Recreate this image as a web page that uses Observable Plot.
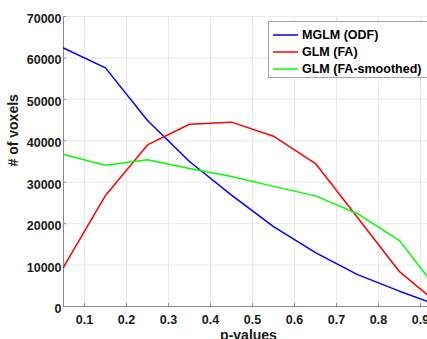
<!DOCTYPE html>
<html><head><meta charset="utf-8">
<script src="https://cdn.jsdelivr.net/npm/d3@7"></script>
<script src="https://cdn.jsdelivr.net/npm/@observablehq/plot@0.6"></script>
<style>
html,body{margin:0;padding:0;background:#fff;overflow:hidden;width:427px;height:339px;}
#wrap{position:relative;width:470px;height:350px;}
#legend{position:absolute;left:268px;top:21px;width:163px;height:57px;border:1px solid #a6a6a6;background:#fff;box-sizing:border-box;font:bold 12.5px "Liberation Sans",Arial,sans-serif;color:#000;}
.row{position:absolute;left:4px;height:17px;display:flex;align-items:center;white-space:nowrap;}
.row svg{margin-right:4px;}
</style></head><body>
<div id="wrap"><div id="chart"></div><div id="legend"></div></div>
<script>
const pValues = [0.05, 0.15, 0.25, 0.35, 0.45, 0.55, 0.65, 0.75, 0.85, 0.95];
const mglmOdf = [62400, 57600, 44900, 35000, 26900, 19300, 13000, 7700, 3700, 0];
const glmFa = [9500, 26800, 39000, 44000, 44500, 41100, 34500, 21500, 8400, 0];
const glmFaSmoothed = [36700, 34100, 35400, 33300, 31400, 29000, 26700, 22400, 15900, 2800];
const seriesNames = ["MGLM (ODF)", "GLM (FA)", "GLM (FA-smoothed)"];
const seriesColors = ["#0000ff", "#ff0000", "#00ff00"];
const xTicks = [0.1, 0.2, 0.3, 0.4, 0.5, 0.6, 0.7, 0.8, 0.9];
const yTicks = [0, 10000, 20000, 30000, 40000, 50000, 60000, 70000];
const xLabel = "p-values";
const yLabel = "# of voxels";

const rows = [];
[mglmOdf, glmFa, glmFaSmoothed].forEach((vals, i) =>
  vals.forEach((v, j) => rows.push({p: pValues[j], n: v, series: seriesNames[i]})));

const font = '"Liberation Sans", Arial, sans-serif';
const axisColor = "#8a8a8a";
const gridColor = "#e8e8e8";

const chart = Plot.plot({
  width: 470, height: 350,
  marginLeft: 63, marginRight: 29, marginTop: 16, marginBottom: 44,
  style: {fontFamily: font, fontSize: "12.5px", fontWeight: "bold", color: "#1a1a1a", background: "#fff", overflow: "visible"},
  x: {domain: [0.05, 0.95]},
  y: {domain: [0, 70000]},
  color: {domain: seriesNames, range: seriesColors},
  marks: [
    Plot.gridX(xTicks, {stroke: gridColor, strokeOpacity: 1}),
    Plot.gridY(yTicks, {stroke: gridColor, strokeOpacity: 1}),
    Plot.axisX(xTicks, {tickSize: -3, tickPadding: 11.5, tickFormat: d => d.toFixed(1), label: null, stroke: axisColor}),
    Plot.axisY(yTicks, {tickSize: -3, tickFormat: () => "", label: null, stroke: axisColor}),
    Plot.axisY(yTicks, {tickSize: 0, tickPadding: 2, dy: 2.5, tickFormat: d => String(d), label: null}),
    Plot.ruleX([0.05], {stroke: axisColor}),
    Plot.ruleY([0], {stroke: axisColor}),
    Plot.line(rows, {x: "p", y: "n", z: "series", stroke: "series", strokeWidth: 1.5}),
    Plot.text([yLabel], {text: d => d, frameAnchor: "left", rotate: -90, dx: -50, dy: 5, fontSize: 14, fontWeight: "bold", fill: "#1a1a1a"}),
    Plot.text([xLabel], {text: d => d, frameAnchor: "bottom", lineAnchor: "top", dy: 24, dx: -4, fontSize: 14, fontWeight: "bold", fill: "#1a1a1a"})
  ]
});
document.getElementById("chart").appendChild(chart);

const legend = document.getElementById("legend");
seriesNames.forEach((name, i) => {
  const row = document.createElement("div");
  row.className = "row";
  row.style.top = (4.5 + i * 17.2) + "px";
  row.innerHTML = `<svg width="25" height="4"><line x1="0" x2="25" y1="2" y2="2" stroke="${seriesColors[i]}" stroke-width="1.5"/></svg><span>${name}</span>`;
  legend.appendChild(row);
});
</script>
</body></html>
